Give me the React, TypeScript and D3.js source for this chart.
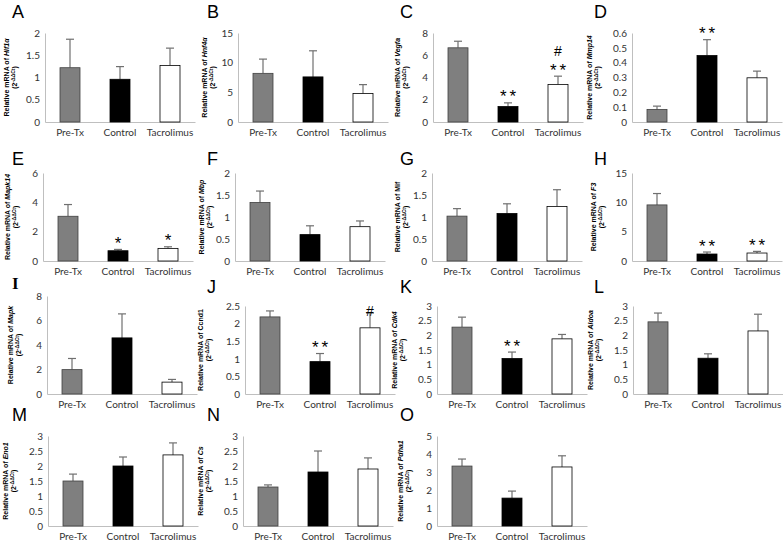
import React, { useEffect, useRef } from 'react';
import * as d3 from 'd3';

const groups = ['Pre-Tx', 'Control', 'Tacrolimus'];
const letters = ['A', 'B', 'C', 'D', 'E', 'F', 'G', 'H', 'I', 'J', 'K', 'L', 'M', 'N', 'O'];
const genes = ['Hif1α', 'Hnf4α', 'Vegfa', 'Mmp14', 'Mapk14', 'Mbp', 'Mif', 'F3', 'Mapk', 'Ccnd1', 'Cdk4', 'Aldoa', 'Eno1', 'Cs', 'Pdha1'];
const italicGene = [true, true, true, true, true, true, false, true, true, false, true, true, true, true, true];
const yMax = [2, 15, 8, 0.6, 6, 2, 2, 15, 8, 2.5, 3, 3, 3, 3, 5];
const yStep = [0.5, 5, 2, 0.1, 2, 0.5, 0.5, 5, 2, 0.5, 0.5, 0.5, 0.5, 0.5, 1];

// mean per group (Pre-Tx, Control, Tacrolimus)
const means = [
  [1.22, 0.96, 1.27],
  [8.2, 7.6, 4.8],
  [6.67, 1.39, 3.38],
  [0.085, 0.448, 0.298],
  [3.05, 0.7, 0.86],
  [1.33, 0.6, 0.78],
  [1.02, 1.08, 1.24],
  [9.56, 1.19, 1.36],
  [1.99, 4.58, 0.97],
  [2.19, 0.92, 1.88],
  [2.28, 1.21, 1.88],
  [2.46, 1.22, 2.15],
  [1.5, 2.0, 2.37],
  [1.3, 1.8, 1.9],
  [3.33, 1.55, 3.28],
];
// top of the error bar
const errTops = [
  [1.86, 1.245, 1.66],
  [10.6, 12.0, 6.3],
  [7.26, 1.72, 4.12],
  [0.107, 0.555, 0.343],
  [3.85, 0.79, 0.97],
  [1.59, 0.8, 0.91],
  [1.19, 1.3, 1.62],
  [11.5, 1.53, 1.64],
  [2.9, 6.54, 1.19],
  [2.36, 1.15, 2.3],
  [2.62, 1.43, 2.03],
  [2.76, 1.37, 2.72],
  [1.73, 2.3, 2.77],
  [1.37, 2.5, 2.27],
  [3.72, 1.94, 3.9],
];
const stars = [
  ['', '', ''], ['', '', ''], ['', '**', '**'], ['', '**', ''],
  ['', '*', '*'], ['', '', ''], ['', '', ''], ['', '**', '**'],
  ['', '', ''], ['', '**', ''], ['', '**', ''], ['', '', ''],
  ['', '', ''], ['', '', ''], ['', '', ''],
];
const hashes = [
  ['', '', ''], ['', '', ''], ['', '', '#'], ['', '', ''],
  ['', '', ''], ['', '', ''], ['', '', ''], ['', '', ''],
  ['', '', ''], ['', '', '#'], ['', '', ''], ['', '', ''],
  ['', '', ''], ['', '', ''], ['', '', ''],
];

// layout
const axisXs = [45, 238, 433, 632, 43, 235, 432, 632, 47, 245, 437, 633, 48, 243, 437];
const rowTop = [33, 173, 306, 436];
const rowZero = [122, 261, 394, 526];
const titleOff = [-36, -31, -33, -40, -33, -31, -32, -36, -34, -42, -40, -40, -40, -40, -34];
const letterX = [12, 207, 400, 594];
const letterY = [18, 165, 293, 421];

const fills = ['#7f7f7f', '#000000', '#ffffff'];
const strokes = ['#404040', '#000000', '#000000'];

const App = () => {
  const svgRef = useRef<SVGSVGElement>(null);

  useEffect(() => {
    const svg = d3.select(svgRef.current);
    svg.selectAll('*').remove();
    svg.append('rect').attr('width', 783).attr('height', 543).attr('fill', '#fff');

    letters.forEach((letter, i) => {
      const row = Math.floor(i / 4);
      const col = i % 4;
      const ax = axisXs[i];
      const top = i === 8 ? 296 : rowTop[row];
      const zero = rowZero[row];
      const plotW = 150;

      svg.append('text')
        .attr('x', letterX[col])
        .attr('y', i === 8 ? 289 : letterY[row])
        .attr('font-family', i === 8 ? 'Liberation Serif' : 'Liberation Sans')
        .attr('font-size', i === 8 ? 17 : 18)
        .attr('font-weight', i === 8 ? 'bold' : 'normal')
        .attr('fill', '#000')
        .text(letter);

      const g = svg.append('g').attr('transform', `translate(${ax},0)`);

      const y = d3.scaleLinear().domain([0, yMax[i]]).range([zero, top]);
      const x = d3.scaleBand().domain(groups).range([0, plotW]);

      const ticks = d3.range(0, Math.round(yMax[i] / yStep[i]) + 1).map(k => +(k * yStep[i]).toFixed(2));
      const yAxis = g.append('g')
        .call(d3.axisLeft(y).tickValues(ticks).tickSize(0).tickPadding(5).tickFormat(d => String(d)));
      yAxis.select('.domain').attr('stroke', '#bfbfbf');
      yAxis.selectAll('text')
        .attr('font-family', 'Lato')
        .attr('font-size', 10)
        .attr('fill', '#333');

      const xAxis = g.append('g')
        .attr('transform', `translate(0,${zero})`)
        .call(d3.axisBottom(x).tickSize(0).tickPadding(7));
      xAxis.select('.domain').attr('stroke', '#bfbfbf');
      xAxis.selectAll('text')
        .attr('font-family', 'Lato')
        .attr('font-size', 10)
        .attr('fill', '#333');

      const bw = 20;
      groups.forEach((grp, j) => {
        const cx = x(grp)! + x.bandwidth() / 2;
        const m = means[i][j];
        const e = errTops[i][j];
        g.append('line')
          .attr('x1', cx).attr('x2', cx)
          .attr('y1', y(m)).attr('y2', y(e))
          .attr('stroke', '#707070').attr('stroke-width', 1.2);
        g.append('line')
          .attr('x1', cx - 4).attr('x2', cx + 4)
          .attr('y1', y(e)).attr('y2', y(e))
          .attr('stroke', '#707070').attr('stroke-width', 1.2);
        g.append('rect')
          .attr('x', cx - bw / 2)
          .attr('y', y(m))
          .attr('width', bw)
          .attr('height', zero - y(m))
          .attr('fill', fills[j])
          .attr('stroke', strokes[j])
          .attr('stroke-width', 0.8);

        // asterisk centre ~10px above the error cap, hash ~15px above that
        let centre = y(e) - 10;
        if (stars[i][j]) {
          g.append('text')
            .attr('x', cx + 1.5)
            .attr('y', centre + 9.5)
            .attr('text-anchor', 'middle')
            .attr('font-family', 'Liberation Sans')
            .attr('font-size', 17)
            .attr('letter-spacing', 3)
            .attr('fill', '#000')
            .text(stars[i][j]);
          centre -= 15;
        } else {
          centre = y(e) - 2;
        }
        if (hashes[i][j]) {
          g.append('text')
            .attr('x', cx)
            .attr('y', centre + 5)
            .attr('text-anchor', 'middle')
            .attr('font-family', 'Liberation Sans')
            .attr('font-size', 14)
            .attr('fill', '#000')
            .text(hashes[i][j]);
        }
      });

      // rotated y title
      const midY = (top + zero) / 2;
      const t1 = g.append('text')
        .attr('transform', `translate(${titleOff[i]},${midY}) rotate(-90)`)
        .attr('text-anchor', 'middle')
        .attr('font-family', 'Liberation Sans')
        .attr('font-size', 7)
        .attr('font-weight', 'bold')
        .attr('fill', '#000');
      t1.append('tspan').text('Relative mRNA of ');
      t1.append('tspan').attr('font-style', italicGene[i] ? 'italic' : 'normal').text(genes[i]);

      const t2 = g.append('text')
        .attr('transform', `translate(${titleOff[i] + 8},${midY}) rotate(-90)`)
        .attr('text-anchor', 'middle')
        .attr('font-family', 'Liberation Sans')
        .attr('font-size', 7)
        .attr('font-weight', 'bold')
        .attr('fill', '#000');
      t2.append('tspan').text('(2');
      t2.append('tspan').attr('font-size', 5).attr('dy', -2.5).text('-ΔΔCt');
      t2.append('tspan').attr('dy', 2.5).text(')');
    });
  }, []);

  return (
    <svg ref={svgRef} width={783} height={543} style={{ position: 'absolute', left: 0, top: 0 }} />
  );
};

export default App;
